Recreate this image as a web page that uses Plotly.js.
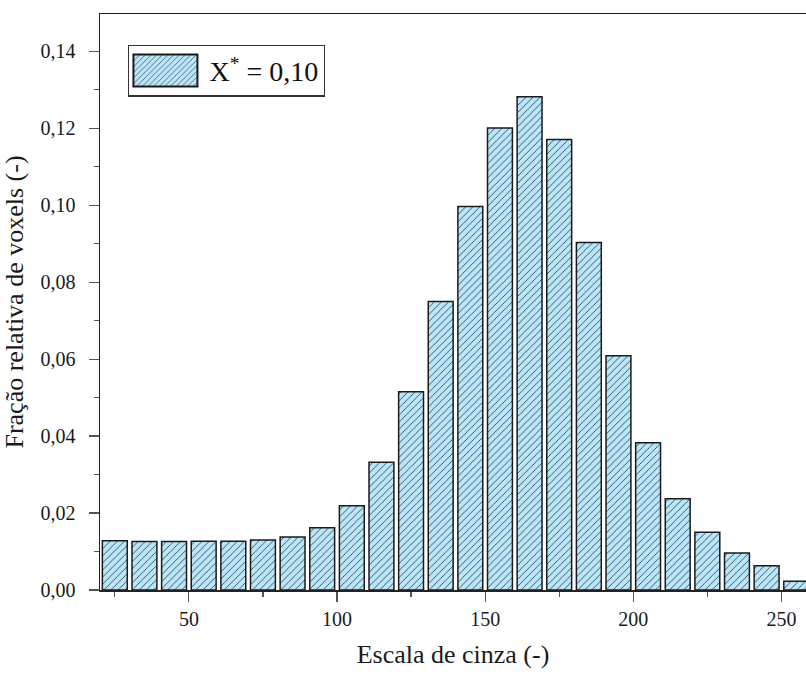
<!DOCTYPE html>
<html>
<head>
<meta charset="utf-8">
<script src="https://cdn.plot.ly/plotly-3.0.1.min.js"></script>
<style>html,body{margin:0;padding:0;background:#fff;}#chart{width:806px;height:676px;}</style>
</head>
<body>
<div id="chart"></div>
<script>
// Gray-level bin centers
const grayLevels = [25, 35, 45, 55, 65, 75, 85, 95, 105, 115, 125, 135, 145, 155, 165, 175, 185, 195, 205, 215, 225, 235, 245, 255];
// Relative voxel fraction
const voxelFraction = [0.0128, 0.0126, 0.0126, 0.0127, 0.0127, 0.0130, 0.0138, 0.0162, 0.0219, 0.0332, 0.0515, 0.0750, 0.0997, 0.1201, 0.1282, 0.1171, 0.0903, 0.0609, 0.0383, 0.0237, 0.0150, 0.0096, 0.0063, 0.0023];
const seriesName = 'X<sup>*</sup> = 0,10';
const xTickVals = [50, 100, 150, 200, 250];
const yTickVals = [0, 0.02, 0.04, 0.06, 0.08, 0.10, 0.12, 0.14];

const font = "'Liberation Serif', 'Times New Roman', serif";

const trace = {
  type: 'bar',
  x: grayLevels,
  y: voxelFraction,
  name: seriesName,
  showlegend: true,
  marker: {
    color: '#bae6fb',
    line: {color: '#1a1a1a', width: 1.5},
    pattern: {shape: '/', fgcolor: '#1a1a1a', bgcolor: '#bae6fb', size: 5, solidity: 0.14}
  }
};

const layout = {
  width: 806,
  height: 676,
  margin: {l: 100, r: 0, t: 14, b: 86},
  paper_bgcolor: '#fff',
  plot_bgcolor: '#fff',
  separators: ',.',
  bargap: 0.16,
  font: {family: font, color: '#1a1a1a', size: 20},
  showlegend: true,
  legend: {
    x: 0.04, y: 0.947, xanchor: 'left', yanchor: 'top',
    bgcolor: '#fff', bordercolor: '#333', borderwidth: 1.2,
    font: {family: font, size: 28, color: '#111'},
    itemwidth: 70, itemsizing: 'constant',
    tracegroupgap: 0
  },
  xaxis: {
    range: [20, 258.3],
    tickvals: xTickVals,
    ticks: 'outside', ticklen: 10, tickwidth: 1.2, tickcolor: '#555',
    showline: true, linecolor: '#222', linewidth: 1.5, mirror: true,
    showgrid: false, zeroline: false,
    minor: {dtick: 25, tick0: 0, ticks: 'outside', ticklen: 5, tickwidth: 1.2, tickcolor: '#555'},
    tickfont: {family: font, size: 20, color: '#1a1a1a'},
    title: {text: 'Escala de cinza (-)', font: {family: font, size: 26, color: '#1a1a1a'}, standoff: 16}
  },
  yaxis: {
    range: [0, 0.1497],
    tickvals: yTickVals,
    tickformat: '.2f',
    ticks: 'outside', ticklen: 10, tickwidth: 1.2, tickcolor: '#555',
    ticklabelstandoff: 9,
    showline: true, linecolor: '#222', linewidth: 1.5,
    showgrid: false, zeroline: false,
    minor: {dtick: 0.01, tick0: 0, ticks: 'outside', ticklen: 5, tickwidth: 1.2, tickcolor: '#555'},
    tickfont: {family: font, size: 20, color: '#1a1a1a'},
    title: {text: 'Fração relativa de voxels (-)', font: {family: font, size: 26, color: '#1a1a1a'}, standoff: 10}
  }
};

Plotly.newPlot('chart', [trace], layout, {displayModeBar: false, staticPlot: true}).then(function (gd) {
  // enlarge the legend swatch to resemble the reference legend box
  const pts = gd.querySelectorAll('.legend .legendpoints path');
  pts.forEach(function (p) {
    p.setAttribute('d', 'M28,16H-36V-16H28Z');
  });
});
</script>
</body>
</html>
